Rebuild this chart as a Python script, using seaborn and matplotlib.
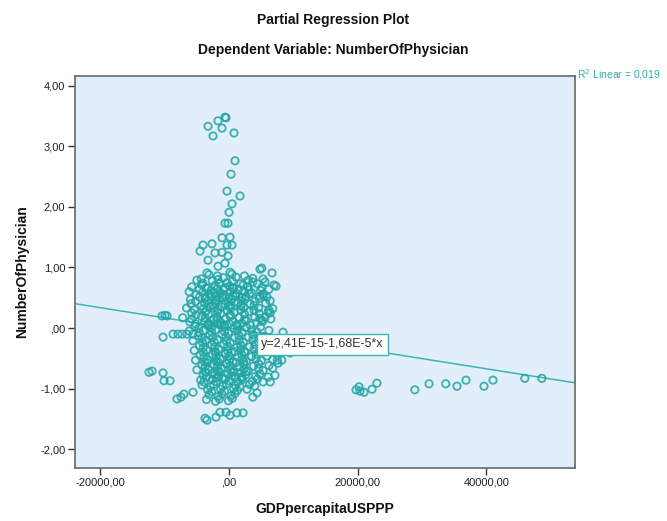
import matplotlib
matplotlib.use("Agg")
import matplotlib.pyplot as plt
import seaborn as sns
import pandas as pd

# ---------------- data (residuals) ----------------
top_x = [-3266, -1710, -622, -467, -1089, -2488, 778, 933, 311, -311, 1711, 467, 0, -622, -155,
         -1089, 155, -311, 467, -4043, -2644, -4510, -2177, -1089, -155, -3266, -1710, -622,
         4821, 6687, 7309, 155, -3421]
top_y = [3.33, 3.42, 3.48, 3.47, 3.30, 3.17, 3.22, 2.76, 2.54, 2.26, 2.18, 2.05, 1.91, 1.73, 1.73,
         1.49, 1.50, 1.37, 1.37, 1.37, 1.39, 1.27, 1.24, 1.25, 1.19, 1.12, 1.02, 1.07,
         0.97, 0.91, 0.69, 0.92, 0.91]

right_x = [19750, 20215, 20370, 21000, 22240, 23000, 28900, 31100, 33700, 35450, 36850, 39650,
           41050, 46000, 48650]
right_y = [-1.02, -0.97, -1.04, -1.06, -1.01, -0.91, -1.02, -0.92, -0.92, -0.96, -0.86, -0.96,
           -0.86, -0.83, -0.83]

left_x = [-12440, -11970, -10260, -10100, -9170, -8090, -7460, -7000, -5600, -3730, -3420, -2020,
          -1400, -470, 155, 1240, 2180, -10420, -9950, -9640, -10260, -8700, -7930, -7300, -6530, -5600]
left_y = [-0.73, -0.71, -0.74, -0.87, -0.87, -1.17, -1.14, -1.09, -1.06, -1.49, -1.52, -1.47,
          -1.39, -1.39, -1.44, -1.40, -1.40, 0.20, 0.21, 0.20, -0.15, -0.10, -0.10, -0.10, -0.10, -0.10]

fringe_x = [5100, 5600, 5300, 5900, 6100, 6400, 5600, 5100, 8400, 5900, 7150, 7900, 8700, 9500,
            7500, 8200, 6800, 6100, 5300, 6400, 7150, 7600, 4350, 3700]
fringe_y = [0.99, 0.76, 0.54, 0.51, 0.26, 0.25, 0.18, 0.13, -0.07, -0.31, -0.40, -0.41, -0.33, -0.41,
            -0.53, -0.53, -0.66, -0.81, -0.89, -0.89, -0.78, -0.58, -1.07, -1.14]

extra_x = [-3300, -1800, -600, 600, 1500, -3700, -2000, -1000, 0, 1000, 2000, -3000, -1200, 200, 1800,
           -3200, -1800, -700, 1200, -2100, -600, 900, 2500, -3400, -1700, -300, 1100, 2300,
           -3600, -2500, -1500, 500, 1600, 2700, -2000, -900, 1000, 2000]
extra_y = [0.66, 0.65, 0.67, 0.66, 0.64, 0.51, 0.52, 0.50, 0.51, 0.53, 0.50, 0.36, 0.35, 0.37, 0.36,
           0.06, 0.07, 0.05, 0.06, -0.40, -0.41, -0.39, -0.40, -0.57, -0.56, -0.58, -0.57, -0.56,
           -0.73, -0.74, -0.72, -0.73, -0.74, -0.72, -0.82, -0.83, -0.81, -0.82]

upper_x = [-4300, -3100, -1800, -900, 450, 1100, 2400, 3700,
           -5000, -4100, -2600, -1700, -300, 500, 1800, 3000, 3700, 5300,
           -5800, -4300, -3600, -2200, -1500, 100, 600, 2200, 2900, 4400, 5100, 7000,
           -6200, -4600, -4100, -2800, -2300, -900, 200, 700, 2300, 3100, 3500, 4900, 6200,
           -5100, -4600, -3100, -2800, -1400, -900, 600, 1100, 2600, 3200, 4800, 5300,
           -6000, -5200, -3700, -3300, -2000, -1500, -100, 400, 1900, 2500, 4000, 4700, 6400,
           -5900, -4300, -3800, -2500, -2100, -600, -100, 1400, 1900, 3300, 3900, 5700]
upper_y = [0.81, 0.88, 0.86, 0.83, 0.89, 0.84, 0.86, 0.82,
           0.79, 0.74, 0.78, 0.80, 0.75, 0.78, 0.73, 0.79, 0.76, 0.81,
           0.68, 0.72, 0.66, 0.70, 0.73, 0.69, 0.66, 0.71, 0.68, 0.73, 0.67, 0.71,
           0.60, 0.64, 0.59, 0.62, 0.58, 0.63, 0.60, 0.65, 0.61, 0.63, 0.58, 0.62, 0.64,
           0.55, 0.51, 0.56, 0.52, 0.57, 0.54, 0.53, 0.57, 0.52, 0.56, 0.53, 0.56,
           0.47, 0.44, 0.49, 0.45, 0.46, 0.49, 0.43, 0.48, 0.45, 0.48, 0.44, 0.49, 0.45,
           0.40, 0.37, 0.41, 0.38, 0.42, 0.39, 0.36, 0.42, 0.38, 0.40, 0.37, 0.41]

middle_x = [-6600, -5400, -4000, -3500, -2300, -1700, -300, 300, 1800, 2300, 3900, 4600, 6200, 6800,
            -5800, -5100, -3700, -3200, -1800, -1300, 200, 800, 2400, 3100, 4700,
            -7200, -5800, -4300, -3700, -2400, -1900, -500, 200, 1600, 2400, 4000, 4800, 6500,
            -6100, -5200, -3800, -3200, -1900, -1300, 0, 600, 2000, 2700, 4300, 5200,
            -5300, -4700, -3300, -2700, -1300, -700, 700, 1300, 2700, 3300, 4900,
            -6200, -4600, -4000, -2700, -2100, -700, -100, 1300, 2000, 3500, 4300, 6200,
            -4800, -4200, -3000, -2500, -1100, -500, 900, 1500, 3000, 3700, 5400,
            -5600, -4100, -3600, -2300, -1800, -400, 200, 1600, 2200, 3700, 4500]
middle_y = [0.33, 0.30, 0.32, 0.29, 0.34, 0.31, 0.29, 0.33, 0.30, 0.34, 0.29, 0.33, 0.30, 0.32,
            0.25, 0.22, 0.26, 0.23, 0.27, 0.24, 0.22, 0.26, 0.23, 0.27, 0.24,
            0.17, 0.15, 0.19, 0.16, 0.14, 0.18, 0.15, 0.19, 0.17, 0.14, 0.18, 0.16, 0.15,
            0.10, 0.07, 0.11, 0.08, 0.12, 0.09, 0.07, 0.11, 0.08, 0.12, 0.09, 0.11,
            0.03, 0.00, 0.04, 0.01, 0.05, 0.02, 0.00, 0.04, 0.01, 0.05, 0.02,
            -0.05, -0.08, -0.04, -0.07, -0.03, -0.06, -0.08, -0.04, -0.07, -0.03, -0.06, -0.04,
            -0.13, -0.16, -0.12, -0.15, -0.11, -0.14, -0.16, -0.12, -0.15, -0.11, -0.14,
            -0.21, -0.24, -0.20, -0.23, -0.19, -0.22, -0.24, -0.20, -0.23, -0.19, -0.22]

lower_x = [-4600, -4000, -2700, -2200, -800, -200, 1200, 1800, 3200, 4000, 6000, 7100,
           -5400, -4000, -3500, -2200, -1600, -200, 400, 1800, 2400, 3900, 4700, 7100,
           -4500, -3900, -2600, -2000, -600, 0, 1400, 2000, 3500, 4200, 5900,
           -5200, -3800, -3300, -2000, -1400, 0, 600, 2000, 2700, 4200, 5000, 6800,
           -4200, -3700, -2400, -1800, -400, 200, 1600, 2300, 3800, 4600, 6200,
           -5000, -3700, -3200, -1800, -1200, 200, 800, 2300, 3000, 4600, 5300,
           -4000, -3500, -2200, -1600, -200, 400, 1900, 2600, 4100, 4800,
           -4400, -3900, -2600, -2000, -600, 0, 1400, 2100, 3600, 4400,
           -4200, -2900, -2400, -1000, -400, 1000, 1700, 3200, 4000,
           -3300, -2700, -1300, -700, 700, 1300, 2800,
           -3100, -1700, -1100, 300, 900,
           -3500, -2100, -1500, -100, 500]
lower_y = [-0.29, -0.32, -0.28, -0.31, -0.27, -0.30, -0.32, -0.28, -0.31, -0.27, -0.30, -0.28,
           -0.37, -0.40, -0.36, -0.39, -0.35, -0.38, -0.40, -0.36, -0.39, -0.35, -0.38, -0.36,
           -0.45, -0.48, -0.44, -0.47, -0.43, -0.46, -0.48, -0.44, -0.47, -0.43, -0.46,
           -0.53, -0.56, -0.52, -0.55, -0.51, -0.54, -0.56, -0.52, -0.55, -0.51, -0.54, -0.52,
           -0.61, -0.64, -0.60, -0.63, -0.59, -0.62, -0.64, -0.60, -0.63, -0.59, -0.62,
           -0.69, -0.72, -0.68, -0.71, -0.67, -0.70, -0.72, -0.68, -0.71, -0.67, -0.70,
           -0.78, -0.81, -0.77, -0.80, -0.76, -0.79, -0.81, -0.77, -0.80, -0.76,
           -0.86, -0.89, -0.85, -0.88, -0.84, -0.87, -0.89, -0.85, -0.88, -0.84,
           -0.94, -0.97, -0.93, -0.96, -0.92, -0.95, -0.97, -0.93, -0.96,
           -1.02, -1.05, -1.01, -1.04, -1.00, -1.03, -1.01,
           -1.10, -1.13, -1.09, -1.12, -1.08,
           -1.18, -1.21, -1.17, -1.20, -1.16]

# fitted line reported on the chart
intercept = 2.41e-15
slope = -1.68e-5
r2_text = "R$^2$ Linear = 0,019"
eq_text = "y=2,41E-15-1,68E-5*x"

x_ticks = [-20000, 0, 20000, 40000]
x_ticklabels = ["-20000,00", ",00", "20000,00", "40000,00"]
y_ticks = [-2, -1, 0, 1, 2, 3, 4]
y_ticklabels = ["-2,00", "-1,00", ",00", "1,00", "2,00", "3,00", "4,00"]

# ---------------- build ----------------
xs = top_x + right_x + left_x + fringe_x + extra_x + upper_x + middle_x + lower_x
ys = top_y + right_y + left_y + fringe_y + extra_y + upper_y + middle_y + lower_y
df = pd.DataFrame({"GDPpercapitaUSPPP": xs, "NumberOfPhysician": ys})

sns.set_style("white")
plt.rcParams["font.family"] = ["Liberation Sans", "DejaVu Sans"]

teal = "#1fa6a4"
fig = plt.figure(figsize=(6.67, 5.21), dpi=100)
ax = fig.add_axes([75 / 667, 1 - 468 / 521, 500 / 667, 392 / 521])
ax.set_facecolor("#e2eefa")

xmin, xmax = -23950, 53800
ymin, ymax = -2.31, 4.16

line_x = [xmin, xmax]
line_y = [intercept + slope * v for v in line_x]
ax.plot(line_x, line_y, color="#3cb5b3", lw=1.1, zorder=1)

sns.scatterplot(data=df, x="GDPpercapitaUSPPP", y="NumberOfPhysician", ax=ax,
                marker="o", s=28, facecolors="none", edgecolor=teal, linewidth=1.3,
                alpha=0.85, zorder=2)

ax.set_xlim(xmin, xmax)
ax.set_ylim(ymin, ymax)
ax.set_xticks(x_ticks)
ax.set_xticklabels(x_ticklabels)
ax.set_yticks(y_ticks)
ax.set_yticklabels(y_ticklabels)
ax.tick_params(axis="both", direction="out", length=5, width=1, color="#333333",
               labelsize=8, labelcolor="#222222", left=True, bottom=True, pad=2)
for s in ax.spines.values():
    s.set_color("#666666")
    s.set_linewidth(1.2)

ax.set_xlabel("GDPpercapitaUSPPP", fontsize=10, fontweight="bold", labelpad=10, color="#111111")
ax.set_ylabel("NumberOfPhysician", fontsize=10, fontweight="bold", labelpad=8, color="#111111")

fig.text(0.5, 1 - 20 / 521, "Partial Regression Plot", ha="center", va="center",
         fontsize=10, fontweight="bold", color="#111111")
fig.text(0.5, 1 - 50 / 521, "Dependent Variable: NumberOfPhysician", ha="center", va="center",
         fontsize=10, fontweight="bold", color="#111111")

fig.text(577 / 667, 1 - 75 / 521, r2_text, ha="left", va="center", fontsize=7.5, color="#2bb0ae")

ax.text(5000, -0.27, eq_text, ha="left", va="center", fontsize=9, color="#333333", zorder=5,
        bbox=dict(boxstyle="square,pad=0.35", facecolor="white", edgecolor="#3cb5b3", linewidth=1))

fig.savefig("out.png", dpi=100)
